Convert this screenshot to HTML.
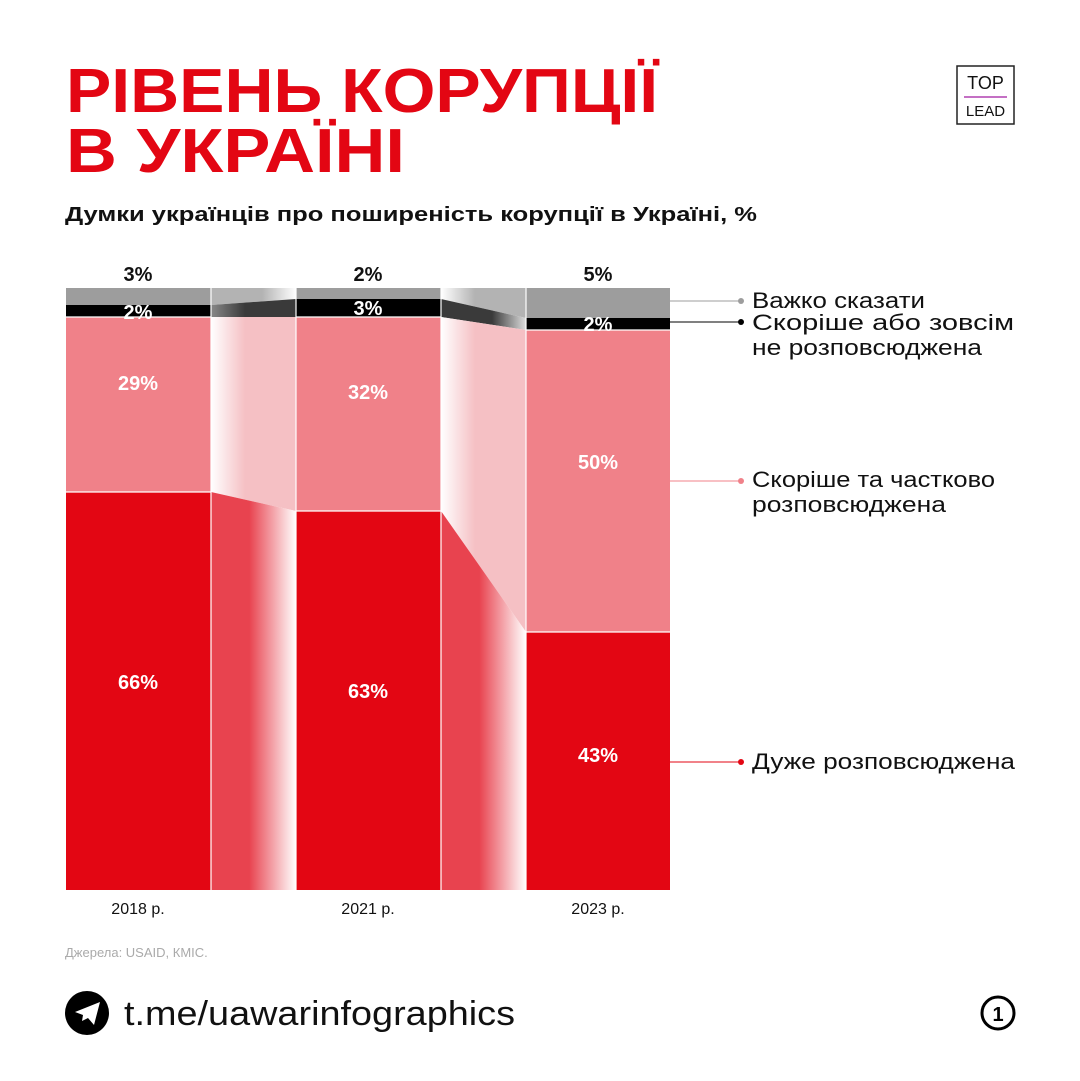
<!DOCTYPE html>
<html><head><meta charset="utf-8"><style>
body{margin:0;width:1080px;height:1081px;background:#fff;overflow:hidden;font-family:"Liberation Sans",sans-serif;}
</style></head><body>
<svg width="1080" height="1081" xmlns="http://www.w3.org/2000/svg" style="position:absolute;left:0;top:0">
<defs>
<linearGradient id="gR" x1="0" x2="1"><stop offset="0" stop-color="#e8434f"/><stop offset="0.45" stop-color="#e8434f"/><stop offset="1" stop-color="#fff"/></linearGradient>
<linearGradient id="gP" x1="0" x2="1"><stop offset="0" stop-color="#fff"/><stop offset="0.4" stop-color="#f5c0c4"/><stop offset="1" stop-color="#f5c0c4"/></linearGradient>
<linearGradient id="gK" x1="0" x2="1"><stop offset="0" stop-color="#888"/><stop offset="0.4" stop-color="#3a3a3a"/><stop offset="1" stop-color="#3a3a3a"/></linearGradient>
<linearGradient id="gK2" x1="0" x2="1"><stop offset="0" stop-color="#3a3a3a"/><stop offset="0.6" stop-color="#3a3a3a"/><stop offset="1" stop-color="#ddd"/></linearGradient>
<linearGradient id="gG" x1="0" x2="1"><stop offset="0" stop-color="#b3b3b3"/><stop offset="0.6" stop-color="#b3b3b3"/><stop offset="1" stop-color="#fff"/></linearGradient>
<linearGradient id="gG2" x1="0" x2="1"><stop offset="0" stop-color="#fff"/><stop offset="0.4" stop-color="#b3b3b3"/><stop offset="1" stop-color="#b3b3b3"/></linearGradient>
</defs>
<text x="66" y="112" font-size="62" font-weight="900" fill="#e30613" textLength="592" lengthAdjust="spacingAndGlyphs">РІВЕНЬ КОРУПЦІЇ</text>
<text x="66" y="172" font-size="62" font-weight="900" fill="#e30613" textLength="339" lengthAdjust="spacingAndGlyphs">В УКРАЇНІ</text>
<text x="65" y="221" font-size="20" font-weight="bold" fill="#111" textLength="692" lengthAdjust="spacingAndGlyphs">Думки українців про поширеність корупції в Україні, %</text>
<rect x="957" y="66" width="57" height="58" fill="none" stroke="#222" stroke-width="1.5"/>
<text x="985.5" y="89" font-size="18" text-anchor="middle" fill="#111">TOP</text>
<line x1="964" y1="97" x2="1007" y2="97" stroke="#b040b0" stroke-width="1.5"/>
<text x="985.5" y="116" font-size="15" text-anchor="middle" fill="#111">LEAD</text>
<polygon points="211,288 296,288 296,299 211,305" fill="url(#gG)"/>
<polygon points="211,305 296,299 296,317 211,317" fill="url(#gK)"/>
<polygon points="211,317 296,317 296,511 211,492" fill="url(#gP)"/>
<polygon points="211,492 296,511 296,890 211,890" fill="url(#gR)"/>
<polygon points="441,288 526,288 526,318 441,299" fill="url(#gG2)"/>
<polygon points="441,299 526,318 526,330 441,317" fill="url(#gK2)"/>
<polygon points="441,317 526,330 526,632 441,511" fill="url(#gP)"/>
<polygon points="441,511 526,632 526,890 441,890" fill="url(#gR)"/>
<rect x="66" y="288" width="145" height="17" fill="#9d9d9d"/>
<rect x="66" y="305" width="145" height="12" fill="#000"/>
<rect x="66" y="317" width="145" height="175" fill="#f08189"/>
<rect x="66" y="492" width="145" height="398" fill="#e30613"/>
<rect x="296" y="288" width="145" height="11" fill="#9d9d9d"/>
<rect x="296" y="299" width="145" height="18" fill="#000"/>
<rect x="296" y="317" width="145" height="194" fill="#f08189"/>
<rect x="296" y="511" width="145" height="379" fill="#e30613"/>
<rect x="526" y="288" width="144" height="30" fill="#9d9d9d"/>
<rect x="526" y="318" width="144" height="12" fill="#000"/>
<rect x="526" y="330" width="144" height="302" fill="#f08189"/>
<rect x="526" y="632" width="144" height="258" fill="#e30613"/>
<g stroke="#fff" stroke-width="1.2"><line x1="66" y1="317" x2="211" y2="317"/><line x1="66" y1="492" x2="211" y2="492"/><line x1="296" y1="317" x2="441" y2="317"/><line x1="296" y1="511" x2="441" y2="511"/><line x1="526" y1="330" x2="670" y2="330"/><line x1="526" y1="632" x2="670" y2="632"/><line x1="211" y1="288" x2="211" y2="890"/><line x1="296" y1="288" x2="296" y2="890"/><line x1="441" y1="288" x2="441" y2="890"/><line x1="526" y1="288" x2="526" y2="890"/></g>
<g font-weight="900" font-size="20" text-anchor="middle">
<text x="138" y="281" fill="#111">3%</text><text x="368" y="281" fill="#111">2%</text><text x="598" y="281" fill="#111">5%</text>
<g fill="#fff"><text x="138" y="319">2%</text><text x="368" y="315">3%</text><text x="598" y="331">2%</text>
<text x="138" y="390">29%</text><text x="368" y="399">32%</text><text x="598" y="469">50%</text>
<text x="138" y="689">66%</text><text x="368" y="698">63%</text><text x="598" y="762">43%</text></g></g>
<g font-size="16" text-anchor="middle" fill="#111"><text x="138" y="914">2018 р.</text><text x="368" y="914">2021 р.</text><text x="598" y="914">2023 р.</text></g>
<line x1="670" y1="301" x2="740" y2="301" stroke="#9d9d9d"/><circle cx="741" cy="301" r="3" fill="#9d9d9d"/>
<line x1="670" y1="322" x2="740" y2="322" stroke="#000"/><circle cx="741" cy="322" r="3" fill="#000"/>
<line x1="670" y1="481" x2="740" y2="481" stroke="#f08189"/><circle cx="741" cy="481" r="3" fill="#f08189"/>
<line x1="670" y1="762" x2="740" y2="762" stroke="#e30613"/><circle cx="741" cy="762" r="3" fill="#e30613"/>
<g font-size="22" fill="#111">
<text x="752" y="308" textLength="173" lengthAdjust="spacingAndGlyphs">Важко сказати</text>
<text x="752" y="330" textLength="262" lengthAdjust="spacingAndGlyphs">Скоріше або зовсім</text>
<text x="752" y="355" textLength="230" lengthAdjust="spacingAndGlyphs">не розповсюджена</text>
<text x="752" y="487" textLength="243" lengthAdjust="spacingAndGlyphs">Скоріше та частково</text>
<text x="752" y="512" textLength="194" lengthAdjust="spacingAndGlyphs">розповсюджена</text>
<text x="752" y="769" textLength="263" lengthAdjust="spacingAndGlyphs">Дуже розповсюджена</text></g>
<text x="65" y="957" font-size="13" fill="#aaa">Джерела: USAID, КМІС.</text>
<circle cx="87" cy="1013" r="22" fill="#000"/>
<polygon points="75,1012 100,1002 94,1025 88,1018 82,1021 83,1015" fill="#fff"/>
<text x="124" y="1025" font-size="34" fill="#111" textLength="391" lengthAdjust="spacingAndGlyphs">t.me/uawarinfographics</text>
<circle cx="998" cy="1013" r="16" fill="none" stroke="#000" stroke-width="3"/>
<text x="998" y="1021" font-size="20" font-weight="bold" text-anchor="middle">1</text>
</svg>
</body></html>
